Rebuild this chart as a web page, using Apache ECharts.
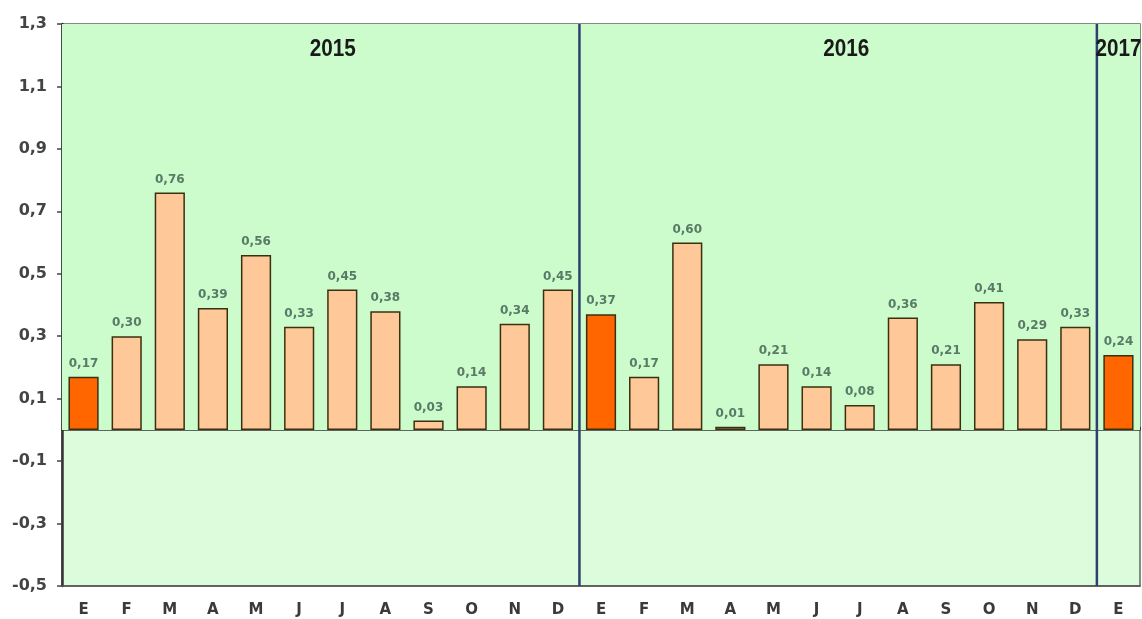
<!DOCTYPE html>
<html><head><meta charset="utf-8">
<script src="https://cdn.jsdelivr.net/npm/echarts@6/dist/echarts.min.js"></script>
<style>html,body{margin:0;padding:0;background:#fff}#c{width:1142px;height:619px}</style>
</head><body><div id="c"></div>
<script>
const months = ['E','F','M','A','M','J','J','A','S','O','N','D','E','F','M','A','M','J','J','A','S','O','N','D','E'];
const values = [0.17,0.30,0.76,0.39,0.56,0.33,0.45,0.38,0.03,0.14,0.34,0.45,
                0.37,0.17,0.60,0.01,0.21,0.14,0.08,0.36,0.21,0.41,0.29,0.33,
                0.24];
const januaryIdx = [0,12,24];
const yTicks = [-0.5,-0.3,-0.1,0.1,0.3,0.5,0.7,0.9,1.1,1.3];
const years = ['2015','2016','2017'];
const yearStart = [0,12,24];
const yearEnd = [11,23,24];

const FONT = '"DejaVu Sans", Verdana, sans-serif';
const chart = echarts.init(document.getElementById('c'));
const option = {
  animation: false,
  backgroundColor: '#ffffff',
  grid: {left: 62, right: 2, top: 24, bottom: 33, show: true, backgroundColor: '#dcfcdc', borderColor: '#5a6a5a', borderWidth: 1.5},
  xAxis: [{
    type: 'category', data: months, position: 'bottom',
    axisLine: {show: true, onZero: false, lineStyle: {color: '#555', width: 1.5}},
    axisTick: {show: false},
    axisLabel: {interval: 0, color: '#3a3a3a', fontSize: 15, fontWeight: 'bold', fontFamily: FONT, margin: 17},
    splitLine: {show: false}
  }, {
    type: 'category', data: months, position: 'bottom',
    axisLine: {show: true, onZero: true, lineStyle: {color: '#333', width: 1.5}},
    axisTick: {show: true, inside: true, length: 3, lineStyle: {color: '#333'}},
    axisLabel: {show: false},
    splitLine: {show: false}
  }],
  yAxis: {
    type: 'value', min: -0.5, max: 1.3,
    axisLine: {show: true, lineStyle: {color: '#333', width: 2.5}},
    axisTick: {show: true, length: 5, customValues: yTicks, lineStyle: {color: '#444', width: 1.5}},
    axisLabel: {customValues: yTicks, color: '#444', fontSize: 16, fontWeight: 'bold', fontFamily: FONT, margin: 15,
      formatter: v => v.toFixed(1).replace('.', ',')},
    splitLine: {show: false}
  },
  series: [{
    type: 'bar', xAxisIndex: 0, barWidth: '70%',
    data: values.map((v, i) => ({value: v, itemStyle: {color: januaryIdx.includes(i) ? '#ff6600' : '#ffc898'}})),
    itemStyle: {borderColor: '#3a3010', borderWidth: 1.5},
    label: {show: true, position: 'top', distance: 7, color: '#587a66', fontSize: 12, fontWeight: 'bold', fontFamily: FONT,
      formatter: p => p.value.toFixed(2).replace('.', ',')},
    markArea: {silent: true, itemStyle: {color: '#ccfccc'}, data: [[{yAxis: 0}, {yAxis: 1.3}]]},
    z: 3
  }]
};
chart.setOption(option);

const px = i => chart.convertToPixel({xAxisIndex: 0}, i);
const topY = chart.convertToPixel({yAxisIndex: 0}, 1.3);
const botY = chart.convertToPixel({yAxisIndex: 0}, -0.5);
const offs = [12, 8, 0];
const seps = yearStart.slice(1).map(s => (px(s - 1) + px(s)) / 2);
chart.setOption({
  graphic: [
    ...seps.map(x => ({
      type: 'line', z: 9, silent: true,
      shape: {x1: x, y1: topY, x2: x, y2: botY},
      style: {stroke: '#2e3f70', lineWidth: 2.5}
    })),
    ...years.map((y, k) => ({
      type: 'text', z: 10, silent: true,
      x: (px(yearStart[k]) + px(yearEnd[k])) / 2 + offs[k],
      y: topY + 26,
      scaleX: 0.9,
      style: {text: y, fill: '#1a1a1a', font: 'bold 23px "Liberation Sans", Arial, sans-serif', align: 'center', verticalAlign: 'middle'}
    }))
  ]
});
</script></body></html>
